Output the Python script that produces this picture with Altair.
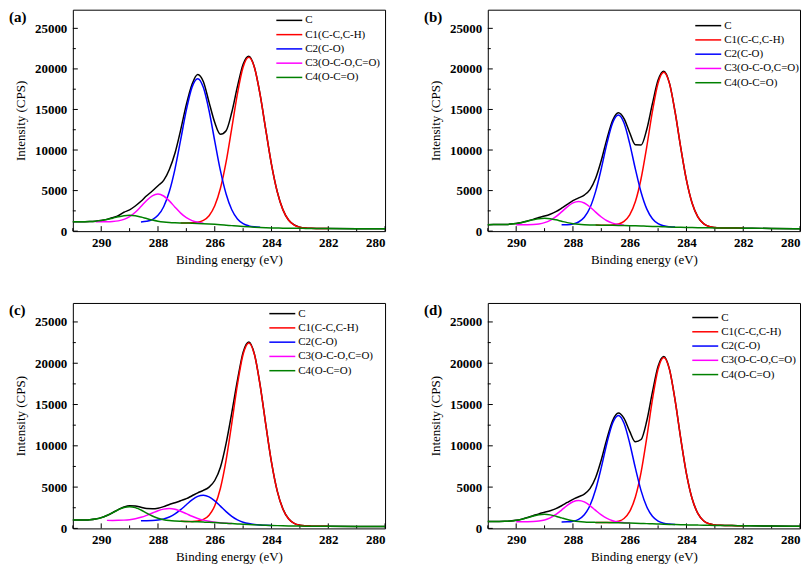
import altair as alt
import pandas as pd

# Binding energy grid (eV)
X = [291.0, 290.8, 290.6, 290.4, 290.2, 290.0, 289.8, 289.6, 289.4, 289.2,
     289.0, 288.8, 288.6, 288.4, 288.2, 288.0, 287.8, 287.6, 287.4, 287.2,
     287.0, 286.8, 286.6, 286.4, 286.2, 286.0, 285.8, 285.6, 285.4, 285.2,
     285.0, 284.8, 284.6, 284.4, 284.2, 284.0, 283.8, 283.6, 283.4, 283.2,
     283.0, 282.8, 282.6, 282.4, 282.2, 282.0, 281.0, 280.0]
N = None

# ---- panel (a)
A_C = [1160, 1165, 1170, 1185, 1230, 1310, 1450, 1660, 1900, 2330,
       2630, 3100, 3680, 4360, 4950, 5600, 6250, 7600, 9630, 12490,
       15630, 18120, 19320, 18420, 15880, 13390, 11940, 12380, 14650, 17840,
       20570, 21550, 20180, 16800, 12450, 8200, 4880, 2650, 1380, 760,
       490, 385, 345, 330, 325, 320, 300, 280]
A_C1 = [N]*19 + [1010, 1000, 1020, 1090, 1325, 1905, 3120, 5280, 8535, 12700,
                 16965, 20225, 21430, 20140, 16795, 12445, 8200, 4875, 2650, 1380,
                 755, 487, 384, 345, 330, 325, 320] + [N]*2
A_C2 = [N]*12 + [1137, 1211, 1426, 1945, 3005, 4880, 7685, 11270, 14955, 17755,
                 18800, 17700, 14845, 11100, 7450, 4575, 2630, 1500, 921, 651,
                 527, 465] + [N]*14
A_C3 = [N]*4 + [1150, 1150, 1156, 1186, 1267, 1449, 1789, 2325, 3032, 3778,
                4356, 4570, 4331, 3728, 2957, 2225, 1664, 1299, 1087, 971] + [N]*24
A_C4 = [1160, 1164, 1167, 1183, 1228, 1305, 1431, 1599, 1775, 1911,
        1960, 1896, 1745, 1554, 1371, 1230, 1133, 1073, 1037, 1014,
        995, 975, 950, 920, 885, 840, 790, 735, 680, 625,
        575, 530, 490, 455, 425, 400, 385, 370, 360, 350,
        345, 340, 335, 330, 325, 320, 300, 280]

# ---- panel (b)
B_C = [801, 805, 810, 827, 868, 945, 1075, 1250, 1450, 1680,
       1860, 2090, 2400, 2830, 3310, 3760, 4100, 4450, 5120, 6510,
       8730, 11410, 13670, 14590, 13880, 12130, 10640, 10620, 12530, 15700,
       18620, 19710, 18250, 14670, 10260, 6280, 3430, 1755, 930, 575,
       445, 400, 385, 377, 372, 367, 330, 290]
B_C1 = [N]*19 + [744, 739, 739, 766, 876, 1204, 2002, 3642, 6460, 10396,
                 14752, 18258, 19585, 18212, 14660, 10260, 6282, 3427, 1754, 927,
                 575, 444, 400, 385, 377, 372, 367] + [N]*2
B_C2 = [N]*13 + [778, 801, 886, 1127, 1707, 2885, 4906, 7727, 10846, 13352,
                 14305, 13324, 10790, 7642, 4792, 2741, 1534, 925, 657, 546,
                 498] + [N]*14
B_C3 = [N]*5 + [790, 792, 799, 824, 894, 1047, 1329, 1778, 2371, 2994,
                3478, 3660, 3469, 2977, 2345, 1743, 1282, 987, 819, 732] + [N]*23
B_C4 = [801, 804, 810, 827, 867, 945, 1069, 1232, 1404, 1538,
        1588, 1533, 1394, 1217, 1048, 919, 835, 787, 762, 748,
        737, 728, 718, 705, 690, 672, 652, 630, 606, 582,
        558, 535, 512, 490, 470, 452, 437, 424, 413, 404,
        396, 389, 383, 377, 372, 367, 330, 290]

# ---- panel (c)
C_C = [1002, 1005, 1020, 1055, 1140, 1300, 1560, 1900, 2280, 2590,
       2750, 2720, 2560, 2400, 2380, 2450, 2640, 2900, 3100, 3350,
       3600, 3950, 4300, 4600, 5000, 5800, 7400, 10300, 14000, 17940,
       21350, 22580, 21080, 17320, 12530, 7990, 4540, 2360, 1170, 610,
       385, 302, 273, 259, 254, 250, 242, 236]
C_C1 = [N]*19 + [852, 840, 841, 893, 1084, 1600, 2737, 4862, 8254, 12724,
                 17436, 21092, 22465, 21027, 17301, 12522, 7989, 4537, 2355, 1165,
                 609, 383, 301, 273, 259, 254, 250] + [N]*2
C_C2 = [N]*12 + [932, 936, 958, 1016, 1144, 1378, 1749, 2264, 2867, 3451,
                 3874, 4015, 3822, 3339, 2695, 2034, 1464, 1040, 754, 581,
                 483, 423, 384, 355] + [N]*12
C_C3 = [N]*6 + [971, 969, 976, 1001, 1059, 1167, 1339, 1579, 1862, 2134,
                2332, 2398, 2307, 2084, 1784, 1473, 1203, 999, 857, 754,
                682, 628, 580] + [N]*19
C_C4 = [1002, 1003, 1015, 1051, 1136, 1298, 1554, 1894, 2252, 2529,
        2630, 2515, 2224, 1851, 1496, 1223, 1046, 944, 890, 858,
        834, 812, 790, 765, 738, 700, 660, 620, 580, 540,
        500, 465, 435, 405, 378, 355, 335, 318, 303, 290,
        280, 272, 265, 259, 254, 250, 242, 236]

# ---- panel (d)
D_C = [831, 830, 834, 852, 896, 982, 1125, 1320, 1540, 1760,
       1950, 2140, 2390, 2740, 3140, 3520, 3830, 4160, 4810, 6160,
       8310, 10890, 13060, 13960, 13320, 11740, 10480, 10760, 13000, 16490,
       19650, 20820, 19280, 15500, 10830, 6610, 3585, 1815, 932, 558,
       416, 368, 350, 340, 333, 327, 290, 250]
D_C1 = [N]*19 + [723, 716, 714, 741, 858, 1205, 2056, 3793, 6781, 10960,
                 15582, 19296, 20707, 19251, 15493, 10828, 6609, 3583, 1812, 930,
                 556, 415, 367, 350, 340, 333, 327] + [N]*2
D_C2 = [N]*13 + [773, 793, 872, 1099, 1650, 2773, 4701, 7395, 10374, 12767,
                 13676, 12737, 10314, 7304, 4578, 2618, 1463, 881, 624, 518,
                 472] + [N]*14
D_C3 = [N]*5 + [805, 803, 807, 828, 888, 1024, 1279, 1686, 2222, 2788,
                3226, 3388, 3211, 2760, 2180, 1629, 1206, 934, 779, 698,
                654] + [N]*22
D_C4 = [831, 829, 833, 851, 895, 981, 1119, 1303, 1497, 1646,
        1700, 1636, 1477, 1273, 1079, 931, 833, 776, 745, 727,
        713, 702, 690, 676, 660, 642, 622, 600, 577, 553,
        530, 507, 485, 464, 445, 428, 412, 398, 385, 374,
        364, 355, 347, 340, 333, 327, 290, 250]

SERIES = ["C", "C1(C-C,C-H)", "C2(C-O)", "C3(O-C-O,C=O)", "C4(O-C=O)"]
COLORS = ["#000000", "#ff0000", "#0000ff", "#ff00ff", "#008000"]

X_TICKS = [290, 288, 286, 284, 282, 280]
X_MINOR = [291, 289, 287, 285, 283, 281]
Y_TICKS = [0, 5000, 10000, 15000, 20000, 25000]
Y_MINOR = [2500, 7500, 12500, 17500, 22500]

# label, series, legend x (px from frame left), legend first-row y (px from frame top), panel height
PANELS = [
    ("(a)", [A_C, A_C1, A_C2, A_C3, A_C4], 204, 10.7, 222),
    ("(b)", [B_C, B_C1, B_C2, B_C3, B_C4], 208, 16, 222),
    ("(c)", [C_C, C_C1, C_C2, C_C3, C_C4], 197, 10.7, 226),
    ("(d)", [D_C, D_C1, D_C2, D_C3, D_C4], 205, 14.6, 226),
]

W = 313
FONT = "Liberation Serif"
ROW = 14.3
SYM = 26
COLOR_SCALE = alt.Scale(domain=SERIES, range=COLORS)


def make_panel(label, series, lx, ly, H):
    rows = []
    for name, vals in zip(SERIES, series):
        for e, v in zip(X, vals):
            if v is not None:
                rows.append({"E": e, "I": v, "s": name})
    df = pd.DataFrame(rows)

    xs = alt.X("E:Q",
               scale=alt.Scale(domain=[280, 291], reverse=True, nice=False, zero=False),
               axis=alt.Axis(values=X_TICKS, title="Binding energy (eV)", format="d"))
    ys = alt.Y("I:Q",
               scale=alt.Scale(domain=[0, 27300], nice=False, zero=False),
               axis=alt.Axis(values=Y_TICKS, title="Intensity (CPS)", format="d"))
    ys_noaxis = alt.Y("I:Q",
                      scale=alt.Scale(domain=[0, 27300], nice=False, zero=False),
                      axis=None)

    lines = alt.Chart(df).mark_line(strokeWidth=1.5, interpolate="monotone").encode(
        x=xs, y=ys,
        color=alt.Color("s:N", sort=SERIES, scale=COLOR_SCALE, legend=None),
    )

    def xticks(vals, ln):
        return alt.Chart(pd.DataFrame({"E": vals})).mark_rule(color="black", strokeWidth=1).encode(
            x=xs, y=alt.value(H), y2=alt.value(H - ln))

    def yticks(vals, ln):
        return alt.Chart(pd.DataFrame({"I": vals})).mark_rule(color="black", strokeWidth=1).encode(
            y=ys_noaxis, x=alt.value(0), x2=alt.value(ln))

    # legend (drawn inside the frame, as in the original figure)
    leg = pd.DataFrame({"s": SERIES, "row": list(range(len(SERIES)))})
    ly_enc = alt.Y("row:Q", axis=None,
                   scale=alt.Scale(domain=[0, len(SERIES) - 1],
                                   range=[ly, ly + ROW * (len(SERIES) - 1)],
                                   nice=False, zero=False))
    leg_sym = alt.Chart(leg).mark_rule(strokeWidth=1.5).encode(
        x=alt.value(lx), x2=alt.value(lx + SYM), y=ly_enc,
        color=alt.Color("s:N", sort=SERIES, scale=COLOR_SCALE, legend=None))
    leg_txt = alt.Chart(leg).mark_text(
        align="left", baseline="middle", font=FONT, fontSize=11, color="black").encode(
        x=alt.value(lx + SYM + 3), y=ly_enc, text="s:N")

    lab = alt.Chart(pd.DataFrame({"t": [label]})).mark_text(
        align="left", baseline="alphabetic", font=FONT, fontSize=15,
        fontWeight="bold", color="black").encode(
        text="t:N", x=alt.value(-64), y=alt.value(12))

    return alt.layer(xticks(X_TICKS, 5), xticks(X_MINOR, 3),
                     yticks(Y_TICKS, 5), yticks(Y_MINOR, 3),
                     lines, leg_sym, leg_txt, lab
                     ).resolve_scale(y="independent").properties(width=W, height=H)


pa, pb, pc, pd_ = [make_panel(*p) for p in PANELS]

top = alt.hconcat(pa, pb, spacing=34)
bottom = alt.hconcat(pc, pd_, spacing=34)

chart = alt.vconcat(top, bottom, spacing=35).properties(
    padding={"left": 0, "top": 0, "right": 0, "bottom": 0},
    background="white",
).configure_view(
    stroke="black", strokeWidth=1
).configure_axis(
    grid=False, ticks=False, domain=False,
    labelFont=FONT, labelFontSize=13, labelFontWeight="bold", labelColor="black",
    titleFont=FONT, titleFontSize=13, titleFontWeight="normal", titleColor="black",
).configure_axisX(
    labelPadding=5, titlePadding=4
).configure_axisY(
    labelPadding=6, titlePadding=7
)

chart.save("out.html", embed_options={"renderer": "svg", "actions": False})
